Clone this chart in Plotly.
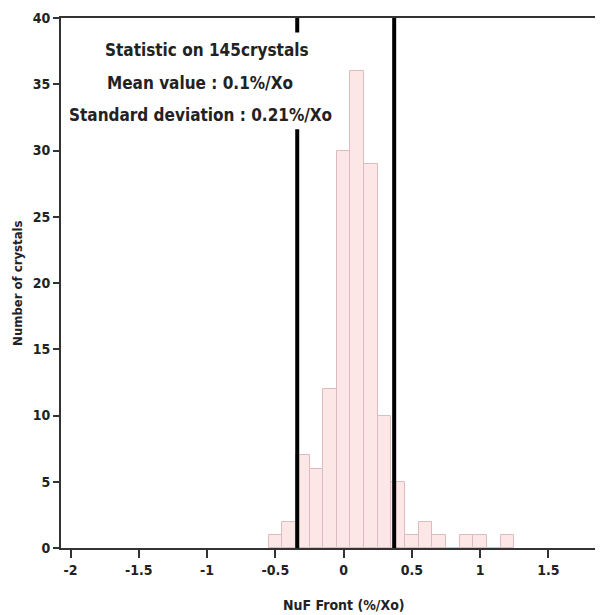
import plotly.graph_objects as go

# Data
bin_centers = [-0.5, -0.4, -0.3, -0.2, -0.1, 0.0, 0.1, 0.2, 0.3, 0.4, 0.5, 0.6, 0.7, 0.8, 0.9, 1.0, 1.1, 1.2]
counts      = [1, 2, 7, 6, 12, 30, 36, 29, 10, 5, 1, 2, 1, 0, 1, 1, 0, 1]
bin_width = 0.1
vlines = [-0.34, 0.37]
x_ticks = [-2, -1.5, -1, -0.5, 0, 0.5, 1, 1.5]
y_ticks = [0, 5, 10, 15, 20, 25, 30, 35, 40]
stat_lines = ["Statistic on 145crystals", "Mean value : 0.1%/Xo", "Standard deviation : 0.21%/Xo"]

FONT = "Liberation Sans Narrow, DejaVu Sans Condensed, Arial Narrow, sans-serif"

fig = go.Figure()
fig.add_trace(go.Bar(
    x=bin_centers, y=counts, width=bin_width,
    marker=dict(color="#fce6e6", line=dict(color="#dcbcc0", width=1)),
    showlegend=False,
))

shapes = []
for v in vlines:
    shapes.append(dict(type="line", xref="x", yref="y", x0=v, x1=v, y0=-0.45, y1=40,
                       line=dict(color="black", width=4), layer="above"))
# white box behind statistics text
shapes.append(dict(type="rect", xref="x", yref="y", x0=-1.98, x1=-0.03, y0=31.6, y1=38.9,
                   fillcolor="white", line=dict(width=0), layer="above"))
fig.update_layout(shapes=shapes)

ann = []
ys = [37.6, 35.1, 32.7]
xs = [-1.0, -1.05, -1.05]
for t, yy, xx in zip(stat_lines, ys, xs):
    ann.append(dict(text="<b>" + t + "</b>", x=xx, y=yy, xref="x", yref="y", showarrow=False,
                    font=dict(family=FONT, size=17, color="#222")))
ann.append(dict(text="<b>Number of crystals</b>", x=-0.082, y=0.5, xref="paper", yref="paper",
                textangle=-90, showarrow=False, xanchor="center", yanchor="middle",
                font=dict(family=FONT, size=13, color="#222")))
ann.append(dict(text="<b>NuF Front (%/Xo)</b>", x=0.0, y=-0.107, xref="x", yref="paper",
                showarrow=False, xanchor="center", yanchor="middle",
                font=dict(family=FONT, size=14, color="#222")))
fig.update_layout(annotations=ann)

fig.update_layout(
    width=595, height=607,
    margin=dict(l=53, r=2, t=10, b=67),
    paper_bgcolor="white", plot_bgcolor="white",
    bargap=0,
    font=dict(family=FONT, size=14, color="#222"),
)
fig.update_xaxes(range=[-2.07, 1.87], tickvals=x_ticks, ticktext=["<b>%g</b>" % t for t in x_ticks],
                 ticks="outside", ticklen=8, tickwidth=2, tickcolor="#333",
                 showline=True, linecolor="#333", linewidth=2, mirror=True,
                 showgrid=False, zeroline=False, tickfont=dict(family=FONT, size=14, color="#222"))
fig.update_yaxes(range=[0, 40], tickvals=y_ticks, ticktext=["<b>%g</b>" % t for t in y_ticks],
                 ticks="outside", ticklen=6, tickwidth=2, tickcolor="#333",
                 showline=True, linecolor="#333", linewidth=2, mirror=True,
                 showgrid=False, zeroline=False, tickfont=dict(family=FONT, size=14, color="#222"))

fig.write_html("out.html")
